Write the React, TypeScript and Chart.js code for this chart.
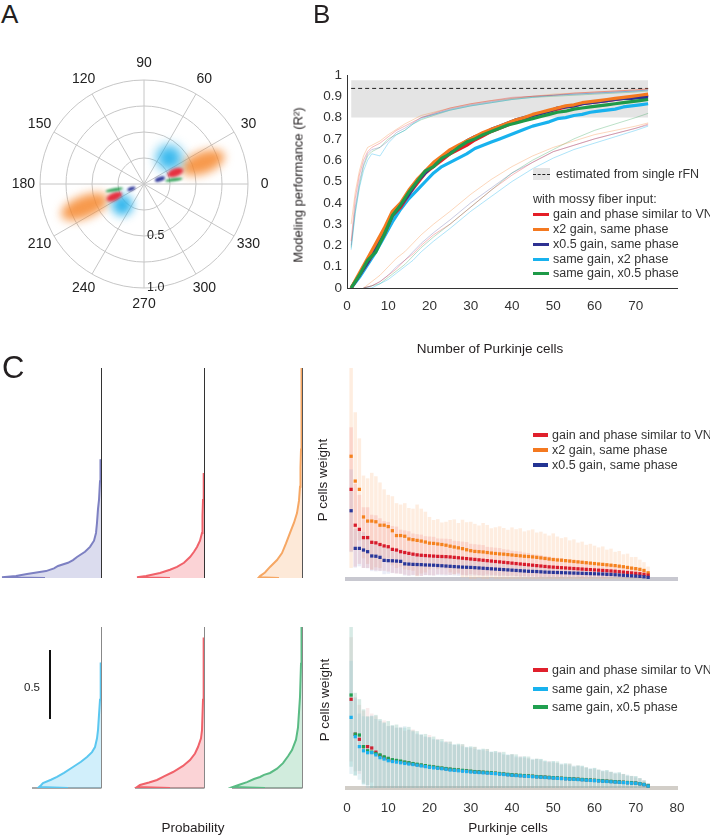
import React, { useEffect, useRef } from 'react';
import { Chart, registerables } from 'chart.js';

Chart.register(...registerables);
const FONT = '"Liberation Sans", Arial, Helvetica, sans-serif';
Chart.defaults.font.family = FONT;
Chart.defaults.color = '#222';

// ---------------- Panel A (polar) data ----------------
const polarAngles = [0, 30, 60, 90, 120, 150, 180, 210, 240, 270, 300, 330];
const polarRings = [0.25, 0.5, 0.75, 1.0];
const polarRingLabels = ['0.5', '1.0'];
const polarRingLabelValues = [0.5, 1.0];
// series order: x2 gain (orange), x2 phase (cyan), VN-like (red), x0.5 phase (green), x0.5 gain (navy)
const blobColors = ['rgba(246,135,45,0.85)', 'rgba(30,175,235,0.9)', 'rgba(232,40,55,0.95)', 'rgba(35,155,75,0.95)', 'rgba(40,50,150,0.95)'];
const blobPhase = [[20, 201], [46, 224], [20, 203], [8, 191], [17, 201]];
const blobGain = [[0.6, 0.61], [0.35, 0.29], [0.32, 0.31], [0.29, 0.29], [0.16, 0.13]];
const blobGainSpread = [[0.22, 0.24], [0.12, 0.1], [0.08, 0.08], [0.085, 0.085], [0.05, 0.04]];
const blobPhaseSpread = [[10, 10], [20, 20], [7, 7], [3, 3], [8, 8]];

// ---------------- Panel B data ----------------
const bX = [1, 3, 5, 7, 9, 11, 13, 15, 17, 19, 21, 23, 25, 27, 29, 31, 33, 35, 37, 39, 41, 43, 45, 47, 49, 51, 53, 55, 57, 59, 61, 63, 65, 67, 69, 71, 73];
const bOrange = [0, 0.07, 0.14, 0.21, 0.28, 0.36, 0.40, 0.46, 0.51, 0.55, 0.59, 0.62, 0.65, 0.67, 0.69, 0.71, 0.73, 0.745, 0.76, 0.775, 0.79, 0.80, 0.815, 0.825, 0.835, 0.845, 0.855, 0.86, 0.87, 0.875, 0.88, 0.885, 0.89, 0.895, 0.90, 0.905, 0.91];
const bRed = [0, 0.06, 0.12, 0.18, 0.25, 0.34, 0.38, 0.44, 0.49, 0.54, 0.57, 0.60, 0.63, 0.65, 0.67, 0.695, 0.715, 0.735, 0.75, 0.765, 0.785, 0.795, 0.81, 0.82, 0.83, 0.84, 0.85, 0.855, 0.865, 0.87, 0.875, 0.88, 0.885, 0.89, 0.895, 0.90, 0.905];
const bNavy = [0, 0.06, 0.12, 0.19, 0.26, 0.34, 0.39, 0.44, 0.5, 0.54, 0.58, 0.61, 0.635, 0.665, 0.69, 0.71, 0.725, 0.745, 0.76, 0.775, 0.79, 0.80, 0.81, 0.82, 0.83, 0.845, 0.85, 0.855, 0.865, 0.87, 0.875, 0.88, 0.885, 0.89, 0.89, 0.895, 0.895];
const bGreen = [0, 0.06, 0.13, 0.17, 0.25, 0.34, 0.39, 0.45, 0.50, 0.55, 0.57, 0.61, 0.63, 0.66, 0.685, 0.70, 0.72, 0.735, 0.75, 0.765, 0.775, 0.785, 0.795, 0.805, 0.815, 0.825, 0.83, 0.84, 0.845, 0.85, 0.855, 0.86, 0.865, 0.87, 0.875, 0.88, 0.885];
const bCyan = [0, 0.05, 0.11, 0.17, 0.24, 0.31, 0.37, 0.42, 0.46, 0.50, 0.54, 0.57, 0.59, 0.61, 0.63, 0.655, 0.67, 0.685, 0.70, 0.715, 0.73, 0.745, 0.76, 0.77, 0.78, 0.795, 0.80, 0.81, 0.815, 0.825, 0.83, 0.835, 0.84, 0.85, 0.855, 0.86, 0.865];
// faint upper curves
const upX = [1, 2, 3, 4, 5, 6, 8, 10, 12, 14, 16, 18, 21, 25, 30, 35, 40, 45, 50, 55, 60, 65, 70, 73];
const upRed = [0.22, 0.42, 0.53, 0.6, 0.64, 0.66, 0.68, 0.71, 0.74, 0.76, 0.78, 0.80, 0.82, 0.845, 0.865, 0.88, 0.895, 0.9, 0.905, 0.915, 0.92, 0.925, 0.93, 0.935];
const upOrange = [0.3, 0.45, 0.55, 0.62, 0.66, 0.67, 0.69, 0.72, 0.745, 0.77, 0.79, 0.81, 0.825, 0.845, 0.865, 0.88, 0.89, 0.9, 0.91, 0.915, 0.92, 0.925, 0.93, 0.935];
const upNavy = [0.2, 0.38, 0.5, 0.58, 0.63, 0.65, 0.66, 0.69, 0.73, 0.75, 0.775, 0.8, 0.815, 0.84, 0.86, 0.875, 0.89, 0.9, 0.905, 0.91, 0.915, 0.92, 0.925, 0.93];
const upCyan = [0.18, 0.35, 0.47, 0.55, 0.6, 0.63, 0.62, 0.68, 0.72, 0.74, 0.77, 0.795, 0.815, 0.835, 0.855, 0.87, 0.885, 0.895, 0.905, 0.91, 0.915, 0.92, 0.925, 0.93];
const upGreen = [0.19, 0.36, 0.48, 0.57, 0.62, 0.64, 0.66, 0.7, 0.72, 0.74, 0.77, 0.79, 0.81, 0.835, 0.855, 0.87, 0.885, 0.895, 0.9, 0.905, 0.91, 0.915, 0.92, 0.925];
// faint lower curves
const lowX = [4, 6, 8, 10, 12, 14, 16, 18, 21, 25, 30, 35, 40, 45, 50, 55, 60, 65, 70, 73];
const lowRed = [0, 0.01, 0.03, 0.06, 0.09, 0.13, 0.16, 0.2, 0.25, 0.3, 0.38, 0.46, 0.53, 0.59, 0.64, 0.67, 0.70, 0.725, 0.75, 0.77];
const lowOrange = [0, 0.03, 0.06, 0.1, 0.14, 0.17, 0.21, 0.25, 0.3, 0.36, 0.44, 0.51, 0.57, 0.62, 0.66, 0.69, 0.72, 0.74, 0.76, 0.775];
const lowNavy = [0, 0.01, 0.03, 0.06, 0.1, 0.13, 0.17, 0.21, 0.26, 0.32, 0.4, 0.47, 0.54, 0.59, 0.64, 0.67, 0.7, 0.725, 0.75, 0.765];
const lowCyan = [0, 0, 0.02, 0.04, 0.07, 0.1, 0.13, 0.17, 0.22, 0.28, 0.36, 0.43, 0.5, 0.56, 0.61, 0.65, 0.68, 0.71, 0.74, 0.76];
const lowGreen = [0, 0.01, 0.02, 0.05, 0.08, 0.11, 0.15, 0.19, 0.24, 0.3, 0.38, 0.46, 0.54, 0.6, 0.65, 0.7, 0.74, 0.77, 0.8, 0.82];
const bandX = [1, 73];
const bandLow = 0.80;
const bandHigh = 0.975;
const rfnEstimate = 0.937;
const bLegend = ['gain and phase similar to VN', 'x2 gain, same phase', 'x0.5 gain, same phase', 'same gain, x2 phase', 'same gain, x0.5 phase'];

// ---------------- Panel C data ----------------
const cells = [1, 2, 3, 4, 5, 6, 7, 8, 9, 10, 11, 12, 13, 14, 15, 16, 17, 18, 19, 20, 21, 22, 23, 24, 25, 26, 27, 28, 29, 30, 31, 32, 33, 34, 35, 36, 37, 38, 39, 40, 41, 42, 43, 44, 45, 46, 47, 48, 49, 50, 51, 52, 53, 54, 55, 56, 57, 58, 59, 60, 61, 62, 63, 64, 65, 66, 67, 68, 69, 70, 71, 72, 73];
const orangeTop = [0.89, 0.71, 0.65, 0.45, 0.42, 0.42, 0.415, 0.39, 0.39, 0.38,
  0.35, 0.315, 0.315, 0.31, 0.29, 0.285, 0.28, 0.275, 0.268, 0.26,
  0.258, 0.254, 0.25, 0.245, 0.238, 0.232, 0.226, 0.22, 0.212, 0.205,
  0.2, 0.198, 0.196, 0.192, 0.188, 0.185, 0.182, 0.18, 0.177, 0.174,
  0.171, 0.168, 0.165, 0.163, 0.16, 0.157, 0.153, 0.149, 0.145, 0.141,
  0.138, 0.136, 0.133, 0.13, 0.127, 0.124, 0.121, 0.118, 0.115, 0.112,
  0.109, 0.106, 0.103, 0.1, 0.097, 0.093, 0.089, 0.084, 0.079, 0.075,
  0.07, 0.062, 0.045];
const redTop = [0.65, 0.39, 0.36, 0.30, 0.30, 0.266, 0.262, 0.25, 0.24, 0.234,
  0.215, 0.21, 0.198, 0.192, 0.186, 0.18, 0.175, 0.172, 0.17, 0.168,
  0.166, 0.164, 0.163, 0.162, 0.16, 0.157, 0.154, 0.151, 0.148, 0.145,
  0.142, 0.139, 0.136, 0.133, 0.13, 0.127, 0.124, 0.121, 0.118, 0.115,
  0.112, 0.109, 0.106, 0.103, 0.1, 0.097, 0.094, 0.091, 0.088, 0.086,
  0.084, 0.082, 0.08, 0.078, 0.076, 0.074, 0.072, 0.07, 0.068, 0.066,
  0.064, 0.062, 0.06, 0.058, 0.056, 0.053, 0.05, 0.047, 0.044, 0.041,
  0.038, 0.034, 0.028];
const navyTop = [0.495, 0.222, 0.222, 0.21, 0.198, 0.167, 0.165, 0.157, 0.135, 0.133,
  0.132, 0.13, 0.128, 0.11, 0.108, 0.106, 0.105, 0.104, 0.102, 0.101,
  0.1, 0.098, 0.096, 0.094, 0.092, 0.09, 0.088, 0.086, 0.085, 0.084,
  0.082, 0.08, 0.078, 0.076, 0.074, 0.072, 0.07, 0.068, 0.066, 0.064,
  0.062, 0.06, 0.058, 0.056, 0.055, 0.054, 0.052, 0.05, 0.049, 0.048,
  0.047, 0.046, 0.045, 0.044, 0.043, 0.042, 0.041, 0.04, 0.039, 0.038,
  0.037, 0.036, 0.034, 0.033, 0.031, 0.029, 0.027, 0.025, 0.023, 0.021,
  0.019, 0.016, 0.012];
const orangeTopSd = [0.81, 0.5, 0.37, 0.3, 0.31, 0.35, 0.33, 0.31, 0.26, 0.23,
  0.25, 0.235, 0.225, 0.24, 0.225, 0.225, 0.26, 0.235, 0.22, 0.19,
  0.17, 0.18, 0.16, 0.17, 0.19, 0.2, 0.18, 0.21, 0.2, 0.21,
  0.2, 0.19, 0.21, 0.2, 0.18, 0.19, 0.2, 0.19, 0.18, 0.2,
  0.19, 0.2, 0.18, 0.19, 0.2, 0.18, 0.19, 0.18, 0.17, 0.19,
  0.17, 0.16, 0.17, 0.15, 0.16, 0.14, 0.15, 0.13, 0.14, 0.13,
  0.12, 0.13, 0.11, 0.12, 0.1, 0.11, 0.09, 0.1, 0.08, 0.085,
  0.07, 0.06, 0.045];
const redTopSd = [0.45, 0.3, 0.25, 0.22, 0.22, 0.2, 0.2, 0.19, 0.18, 0.18,
  0.17, 0.17, 0.16, 0.16, 0.16, 0.15, 0.15, 0.15, 0.14, 0.14,
  0.14, 0.13, 0.13, 0.13, 0.13, 0.12, 0.12, 0.12, 0.12, 0.11,
  0.11, 0.11, 0.11, 0.1, 0.1, 0.1, 0.1, 0.095, 0.095, 0.09,
  0.09, 0.09, 0.085, 0.085, 0.08, 0.08, 0.08, 0.075, 0.075, 0.07,
  0.07, 0.07, 0.065, 0.065, 0.06, 0.06, 0.06, 0.055, 0.055, 0.05,
  0.05, 0.05, 0.045, 0.045, 0.04, 0.04, 0.04, 0.035, 0.035, 0.03,
  0.03, 0.025, 0.02];
const navyTopSd = [0.3, 0.14, 0.13, 0.13, 0.12, 0.11, 0.11, 0.1, 0.1, 0.095,
  0.09, 0.09, 0.09, 0.085, 0.085, 0.08, 0.08, 0.08, 0.075, 0.075,
  0.075, 0.07, 0.07, 0.07, 0.065, 0.065, 0.065, 0.06, 0.06, 0.06,
  0.058, 0.056, 0.055, 0.054, 0.052, 0.05, 0.05, 0.048, 0.046, 0.045,
  0.044, 0.043, 0.042, 0.041, 0.04, 0.039, 0.038, 0.037, 0.036, 0.035,
  0.034, 0.033, 0.032, 0.031, 0.03, 0.03, 0.029, 0.028, 0.027, 0.026,
  0.025, 0.025, 0.024, 0.023, 0.022, 0.021, 0.02, 0.019, 0.018, 0.017,
  0.016, 0.014, 0.012];
const redBot = [0.643, 0.39, 0.353, 0.30, 0.30, 0.29, 0.26, 0.235, 0.22, 0.21,
  0.2, 0.196, 0.19, 0.185, 0.18, 0.174, 0.169, 0.164, 0.159, 0.154,
  0.15, 0.146, 0.142, 0.139, 0.135, 0.132, 0.129, 0.126, 0.123, 0.12,
  0.117, 0.115, 0.113, 0.111, 0.109, 0.106, 0.103, 0.1, 0.097, 0.094,
  0.092, 0.09, 0.088, 0.086, 0.084, 0.082, 0.08, 0.078, 0.076, 0.074,
  0.072, 0.07, 0.068, 0.066, 0.065, 0.063, 0.061, 0.059, 0.057, 0.055,
  0.053, 0.051, 0.049, 0.047, 0.045, 0.043, 0.041, 0.039, 0.037, 0.035,
  0.031, 0.025, 0.015];
const cyanBot = [0.512, 0.372, 0.30, 0.27, 0.256, 0.256, 0.24, 0.22, 0.21, 0.198,
  0.192, 0.188, 0.183, 0.178, 0.174, 0.17, 0.165, 0.16, 0.155, 0.15,
  0.146, 0.143, 0.14, 0.136, 0.13, 0.128, 0.125, 0.122, 0.119, 0.116,
  0.114, 0.112, 0.11, 0.108, 0.106, 0.104, 0.101, 0.098, 0.095, 0.092,
  0.09, 0.088, 0.086, 0.084, 0.082, 0.08, 0.078, 0.076, 0.074, 0.072,
  0.07, 0.068, 0.066, 0.064, 0.063, 0.061, 0.059, 0.057, 0.055, 0.053,
  0.051, 0.049, 0.047, 0.045, 0.043, 0.041, 0.039, 0.037, 0.035, 0.034,
  0.03, 0.024, 0.014];
const greenBot = [0.674, 0.39, 0.384, 0.30, 0.27, 0.26, 0.25, 0.24, 0.226, 0.215,
  0.205, 0.2, 0.195, 0.188, 0.183, 0.177, 0.172, 0.167, 0.162, 0.157,
  0.153, 0.149, 0.145, 0.141, 0.137, 0.134, 0.131, 0.128, 0.125, 0.122,
  0.119, 0.117, 0.115, 0.113, 0.111, 0.108, 0.105, 0.102, 0.099, 0.096,
  0.094, 0.092, 0.09, 0.088, 0.086, 0.083, 0.081, 0.079, 0.077, 0.075,
  0.073, 0.071, 0.069, 0.067, 0.066, 0.064, 0.062, 0.06, 0.058, 0.056,
  0.054, 0.052, 0.05, 0.048, 0.046, 0.044, 0.042, 0.04, 0.038, 0.036,
  0.032, 0.026, 0.016];
const redBotSd = [0.45, 0.27, 0.25, 0.26, 0.28, 0.25, 0.26, 0.25, 0.27, 0.24,
  0.25, 0.24, 0.25, 0.23, 0.24, 0.25, 0.22, 0.22, 0.21, 0.23,
  0.2, 0.21, 0.19, 0.2, 0.2, 0.18, 0.18, 0.19, 0.17, 0.17,
  0.18, 0.16, 0.16, 0.17, 0.15, 0.15, 0.16, 0.14, 0.14, 0.15,
  0.13, 0.14, 0.13, 0.13, 0.12, 0.13, 0.12, 0.11, 0.12, 0.11,
  0.11, 0.1, 0.1, 0.11, 0.09, 0.1, 0.09, 0.09, 0.08, 0.08,
  0.08, 0.07, 0.07, 0.07, 0.06, 0.06, 0.06, 0.05, 0.05, 0.04,
  0.04, 0.03, 0.02];
const cyanBotSd = [0.41, 0.28, 0.24, 0.25, 0.26, 0.27, 0.26, 0.27, 0.26, 0.25,
  0.26, 0.25, 0.26, 0.27, 0.25, 0.24, 0.23, 0.23, 0.22, 0.22,
  0.21, 0.21, 0.2, 0.2, 0.19, 0.19, 0.19, 0.18, 0.18, 0.18,
  0.17, 0.17, 0.17, 0.16, 0.16, 0.16, 0.16, 0.15, 0.15, 0.15,
  0.14, 0.14, 0.14, 0.13, 0.13, 0.13, 0.13, 0.12, 0.12, 0.12,
  0.11, 0.11, 0.11, 0.1, 0.1, 0.1, 0.1, 0.09, 0.09, 0.09,
  0.08, 0.08, 0.08, 0.07, 0.07, 0.07, 0.06, 0.06, 0.05, 0.05,
  0.04, 0.03, 0.02];
const greenBotSd = [0.52, 0.3, 0.26, 0.27, 0.25, 0.26, 0.28, 0.26, 0.25, 0.27,
  0.25, 0.26, 0.24, 0.25, 0.26, 0.24, 0.24, 0.22, 0.23, 0.21,
  0.22, 0.2, 0.21, 0.19, 0.2, 0.18, 0.19, 0.19, 0.17, 0.18,
  0.18, 0.16, 0.17, 0.17, 0.15, 0.16, 0.15, 0.16, 0.14, 0.15,
  0.15, 0.13, 0.14, 0.14, 0.12, 0.13, 0.13, 0.12, 0.11, 0.12,
  0.12, 0.1, 0.11, 0.11, 0.09, 0.1, 0.1, 0.09, 0.08, 0.09,
  0.08, 0.07, 0.08, 0.07, 0.06, 0.07, 0.06, 0.05, 0.05, 0.05,
  0.04, 0.03, 0.02];

// histograms: weight (vertical) vs probability (horizontal, leftwards)
const hBlueW = [0, 0.006, 0.015, 0.029, 0.05, 0.07, 0.087, 0.11, 0.13, 0.152, 0.19, 0.225, 0.27, 0.326, 0.4, 0.5, 0.565, 0.7, 0.86];
const hBlueP = [0.056, 0.099, 0.085, 0.074, 0.055, 0.047, 0.043, 0.033, 0.028, 0.024, 0.016, 0.011, 0.007, 0.005, 0.004, 0.003, 0.002, 0.001, 0.0005];
const hRedTopW = [0, 0.006, 0.015, 0.036, 0.06, 0.08, 0.11, 0.152, 0.19, 0.225, 0.27, 0.326, 0.45, 0.565, 0.76];
const hRedTopP = [0.034, 0.067, 0.058, 0.044, 0.034, 0.027, 0.02, 0.014, 0.01, 0.007, 0.004, 0.002, 0.0015, 0.001, 0.0003];
const hOrangeW = [0, 0.006, 0.014, 0.04, 0.08, 0.13, 0.18, 0.25, 0.326, 0.4, 0.47, 0.56, 0.66, 0.8, 0.93, 1.2, 1.52];
const hOrangeP = [0.023, 0.043, 0.042, 0.037, 0.032, 0.025, 0.02, 0.016, 0.012, 0.008, 0.005, 0.003, 0.002, 0.0015, 0.001, 0.0006, 0.0004];
const hCyanW = [0, 0.007, 0.02, 0.036, 0.06, 0.08, 0.11, 0.152, 0.19, 0.225, 0.26, 0.297, 0.36, 0.42, 0.53, 0.64, 0.91];
const hCyanP = [0.033, 0.062, 0.06, 0.058, 0.05, 0.044, 0.037, 0.028, 0.02, 0.014, 0.009, 0.006, 0.004, 0.003, 0.002, 0.001, 0.0003];
const hRedBotW = [0, 0.007, 0.022, 0.04, 0.058, 0.085, 0.116, 0.16, 0.203, 0.25, 0.297, 0.36, 0.42, 0.64, 0.85, 1.09];
const hRedBotP = [0.034, 0.067, 0.064, 0.055, 0.047, 0.04, 0.031, 0.021, 0.014, 0.009, 0.006, 0.003, 0.002, 0.001, 0.0005, 0.0002];
const hGreenW = [0, 0.007, 0.025, 0.043, 0.065, 0.08, 0.095, 0.109, 0.14, 0.18, 0.23, 0.275, 0.35, 0.44, 0.55, 0.66, 0.9, 1.17];
const hGreenP = [0.037, 0.069, 0.062, 0.055, 0.048, 0.042, 0.038, 0.032, 0.025, 0.019, 0.014, 0.01, 0.006, 0.004, 0.003, 0.002, 0.001, 0.0005];
const scaleBarFrom = 0.5;
const scaleBarTo = 1.0;
const topLegend = ['gain and phase similar to VN', 'x2 gain, same phase', 'x0.5 gain, same phase'];
const botLegend = ['gain and phase similar to VN', 'same gain, x2 phase', 'same gain, x0.5 phase'];

// ---------------- colours ----------------
const RED = '#e41e26';
const ORANGE = '#f47920';
const NAVY = '#2e3192';
const CYAN = '#18b2ee';
const GREEN = '#1e9a48';
const fade = (hex: string, a: number) => {
  const n = parseInt(hex.slice(1), 16);
  return `rgba(${(n >> 16) & 255},${(n >> 8) & 255},${n & 255},${a})`;
};

// ---------------- plugins ----------------
const PR = 144 / 104;
const polarPlugin: any = {
  id: 'polarGrid',
  beforeDatasetsDraw(chart: any) {
    const { ctx } = chart;
    const xs = chart.scales.x, ys = chart.scales.y;
    const P = (r: number, deg: number) => [xs.getPixelForValue(r * Math.cos(deg * Math.PI / 180)), ys.getPixelForValue(r * Math.sin(deg * Math.PI / 180))];
    const [cx, cy] = P(0, 0);
    const R = xs.getPixelForValue(1) - cx;
    ctx.save();
    ctx.strokeStyle = '#c6c6c6';
    ctx.lineWidth = 1;
    polarRings.forEach((r) => { ctx.beginPath(); ctx.arc(cx, cy, r * R, 0, Math.PI * 2); ctx.stroke(); });
    polarAngles.forEach((a) => { const [x, y] = P(1, a); ctx.beginPath(); ctx.moveTo(cx, cy); ctx.lineTo(x, y); ctx.stroke(); });
    blobPhase.forEach((phs, s) => {
      phs.forEach((ph, k) => {
        const g = blobGain[s][k];
        const [px, py] = P(g, ph);
        const a = blobGainSpread[s][k] * R;
        const b = g * R * blobPhaseSpread[s][k] * Math.PI / 180;
        ctx.save();
        ctx.filter = `blur(${Math.max(1.2, Math.min(a, b) * 0.45).toFixed(1)}px)`;
        ctx.fillStyle = blobColors[s];
        ctx.beginPath();
        ctx.ellipse(px, py, a, b, -ph * Math.PI / 180, 0, Math.PI * 2);
        ctx.fill();
        ctx.restore();
      });
    });
    ctx.restore();
  },
  afterDatasetsDraw(chart: any) {
    const { ctx } = chart;
    const xs = chart.scales.x, ys = chart.scales.y;
    const P = (r: number, deg: number) => [xs.getPixelForValue(r * Math.cos(deg * Math.PI / 180)), ys.getPixelForValue(r * Math.sin(deg * Math.PI / 180))];
    ctx.save();
    ctx.fillStyle = '#222';
    ctx.font = `14px ${FONT}`;
    ctx.textAlign = 'center';
    ctx.textBaseline = 'middle';
    polarAngles.forEach((a) => { const [x, y] = P(1.16, a); ctx.fillText(String(a), x, y); });
    ctx.font = `12.5px ${FONT}`;
    ctx.textAlign = 'left';
    polarRingLabelValues.forEach((v, i) => { const [x, y] = P(v, 270); ctx.fillText(polarRingLabels[i], x + 3, y); });
    ctx.restore();
  },
};

const histAxisPlugin: any = {
  id: 'histAxis',
  beforeDatasetsDraw(chart: any, _args: any, opts: any) {
    const { ctx } = chart;
    const xs = chart.scales.x, ys = chart.scales.y;
    const x0 = Math.round(xs.getPixelForValue(0)) + 0.5;
    ctx.save();
    ctx.strokeStyle = opts.axisColor;
    ctx.lineWidth = 1;
    ctx.beginPath();
    ctx.moveTo(x0, ys.getPixelForValue(0));
    ctx.lineTo(x0, ys.getPixelForValue(ys.max));
    ctx.stroke();
    if (opts.baseLen) {
      ctx.strokeStyle = '#8a8a8a';
      ctx.lineWidth = 1.5;
      ctx.beginPath();
      ctx.moveTo(x0, ys.getPixelForValue(0));
      ctx.lineTo(xs.getPixelForValue(opts.baseLen), ys.getPixelForValue(0));
      ctx.stroke();
    }
    if (opts.bar) {
      const bx = xs.getPixelForValue(opts.bar);
      ctx.strokeStyle = '#111';
      ctx.lineWidth = 2;
      ctx.beginPath();
      ctx.moveTo(bx, ys.getPixelForValue(scaleBarFrom));
      ctx.lineTo(bx, ys.getPixelForValue(scaleBarTo));
      ctx.stroke();
      ctx.fillStyle = '#222';
      ctx.font = `11.5px ${FONT}`;
      ctx.textAlign = 'center';
      ctx.textBaseline = 'middle';
      ctx.fillText(String(scaleBarTo - scaleBarFrom), xs.getPixelForValue(opts.bar + 0.018), ys.getPixelForValue((scaleBarFrom + scaleBarTo) / 2) + 3);
    }
    ctx.restore();
  },
};

const noPlugins = { legend: { display: false }, tooltip: { enabled: false } };

// ---------------- configs ----------------
const polarConfig = () => ({
  type: 'scatter',
  data: { datasets: [{ data: [], pointRadius: 0 }] },
  options: {
    responsive: false, animation: false, events: [],
    layout: { padding: 0 },
    plugins: noPlugins,
    scales: {
      x: { type: 'linear', min: -PR, max: PR, display: false },
      y: { type: 'linear', min: -PR, max: PR, display: false },
    },
  },
  plugins: [polarPlugin],
});

const ln = (xs: number[], ys: number[], color: string, width: number, extra: any = {}) => ({
  data: xs.map((x, i) => ({ x, y: ys[i] })),
  borderColor: color, backgroundColor: color, borderWidth: width, pointRadius: 0, fill: false, tension: 0,
  borderJoinStyle: 'round', ...extra,
});

const bConfig = () => ({
  type: 'line',
  data: {
    datasets: [
      ln(bX, bGreen, GREEN, 3.2),
      ln(bX, bOrange, ORANGE, 3.2),
      ln(bX, bNavy, NAVY, 3.2),
      ln(bX, bRed, RED, 3.2),
      ln(bX, bCyan, CYAN, 3.2),
      ln(upX, upRed, fade(RED, 0.3), 1),
      ln(upX, upOrange, fade(ORANGE, 0.3), 1),
      ln(upX, upNavy, fade(NAVY, 0.25), 1),
      ln(upX, upCyan, fade(CYAN, 0.35), 1),
      ln(upX, upGreen, fade(GREEN, 0.3), 1),
      ln(lowX, lowRed, fade(RED, 0.3), 1),
      ln(lowX, lowOrange, fade(ORANGE, 0.3), 1),
      ln(lowX, lowNavy, fade(NAVY, 0.25), 1),
      ln(lowX, lowCyan, fade(CYAN, 0.35), 1),
      ln(lowX, lowGreen, fade(GREEN, 0.3), 1),
      ln(bandX, [rfnEstimate, rfnEstimate], '#222', 1, { borderDash: [4, 3] }),
      ln(bandX, [bandHigh, bandHigh], 'rgba(0,0,0,0)', 0, { fill: '+1', backgroundColor: '#e4e4e4' }),
      ln(bandX, [bandLow, bandLow], 'rgba(0,0,0,0)', 0),
    ],
  },
  options: {
    responsive: false, animation: false, events: [],
    layout: { padding: { left: 0, top: 15, right: 23, bottom: 0 } },
    plugins: noPlugins,
    scales: {
      x: {
        type: 'linear', min: 0, max: 80,
        grid: { display: false, drawTicks: false },
        border: { display: true, color: '#333', width: 1 },
        ticks: { stepSize: 10, padding: 10, color: '#333', font: { size: 13.5 }, maxRotation: 0, autoSkip: false, callback: (v: any) => (v === 80 ? '' : String(v)) },
        afterFit: (s: any) => { s.height = 42; s.paddingLeft = 0; s.paddingRight = 0; },
      },
      y: {
        type: 'linear', min: 0, max: 1,
        grid: { display: false, drawTicks: false },
        border: { display: true, color: '#333', width: 1 },
        ticks: { stepSize: 0.1, padding: 5, color: '#333', font: { size: 13.5 }, autoSkip: false, callback: (v: any) => String(Math.round(v * 10) / 10) },
        afterFit: (s: any) => { s.width = 97; s.paddingTop = 0; s.paddingBottom = 0; },
      },
    },
  },
});

const histConfig = (ws: number[], ps: number[], line: string, fill: string, maxW: number, axisColor: string, baseLen: number, bar: number) => ({
  type: 'line',
  data: {
    datasets: [{
      data: ws.map((w, i) => ({ x: ps[i], y: w })),
      borderColor: line, backgroundColor: fill, fill: 'origin', borderWidth: 2, pointRadius: 0, tension: 0,
    }],
  },
  options: {
    responsive: false, animation: false, events: [],
    indexAxis: 'y',
    layout: { padding: { left: 2, right: 3, top: 6, bottom: 6 } },
    plugins: { ...noPlugins, histAxis: { axisColor, baseLen, bar } },
    scales: {
      x: { type: 'linear', reverse: true, min: 0, max: 0.1, display: false },
      y: { type: 'linear', min: 0, max: maxW, display: false },
    },
  },
  plugins: [histAxisPlugin],
});

const scatterConfig = (means: number[][], sds: number[][], ptColors: string[], barColors: string[], maxW: number, showTicks: boolean, baseColor: string, padding: any) => ({
  type: 'scatter',
  data: {
    datasets: [
      ...means.map((m, s) => ({
        type: 'scatter',
        data: m.map((v, i) => ({ x: cells[i], y: v })),
        backgroundColor: ptColors[s], borderWidth: 0, pointStyle: 'rect', pointRadius: 2.3, order: 100 - s,
      })),
      ...means.map((m, s) => ({
        type: 'bar',
        data: m.map((v, i) => ({ x: cells[i], y: [Math.max(0, v - sds[s][i]), v + sds[s][i]] })),
        backgroundColor: barColors[s], borderWidth: 0, grouped: false, barPercentage: 0.85, categoryPercentage: 1, order: 200 - s,
      })),
    ],
  },
  options: {
    responsive: false, animation: false, events: [],
    layout: { padding },
    plugins: noPlugins,
    scales: {
      x: {
        type: 'linear', min: 0, max: 80, offset: false, z: 1,
        grid: { display: false, drawTicks: false },
        border: { display: true, color: baseColor, width: 4 },
        ticks: { display: showTicks, stepSize: 10, padding: 12, color: '#333', font: { size: 13.5 }, maxRotation: 0, autoSkip: false },
        afterFit: (s: any) => { if (showTicks) s.height = 47; s.paddingLeft = 0; s.paddingRight = 0; },
      },
      y: { type: 'linear', min: 0, max: maxW, display: false },
    },
  },
});

// ---------------- components ----------------
function ChartBox({ left, top, width, height, make }: any) {
  const ref = useRef<HTMLCanvasElement | null>(null);
  useEffect(() => {
    if (!ref.current) return;
    const chart = new Chart(ref.current, make());
    return () => chart.destroy();
  }, []);
  return <canvas ref={ref} width={width} height={height} style={{ position: 'absolute', left, top, width, height }} />;
}

function Txt({ x, y, size = 13.5, align = 'center', rotate = 0, color = '#231f20', children }: any) {
  const tx = align === 'center' ? '-50%' : align === 'right' ? '-100%' : '0';
  return (
    <div style={{
      position: 'absolute', left: x, top: y, fontSize: size, lineHeight: 1, whiteSpace: 'nowrap', color, fontFamily: FONT,
      transform: `translate(${tx}, -50%)${rotate ? ` rotate(${rotate}deg)` : ''}`,
    }}>{children}</div>
  );
}

function Swatch({ x, y, w, h, color }: any) {
  return <div style={{ position: 'absolute', left: x, top: y - h / 2, width: w, height: h, background: color }} />;
}

const bLegendColors = [RED, ORANGE, NAVY, CYAN, GREEN];
const bLegendY = [214, 229, 244, 259, 273];
const topLegendColors = ['#e0202c', ORANGE, '#233493'];
const topLegendY = [435, 450, 465];
const botLegendColors = ['#e0202c', CYAN, '#20a050'];
const botLegendY = [670, 689, 707];

export default function App() {
  return (
    <div style={{ position: 'absolute', left: 0, top: 0, width: 710, height: 835, overflow: 'hidden', background: '#fff', fontFamily: FONT }}>
      {/* Panel A */}
      <ChartBox left={0} top={40} width={288} height={288} make={polarConfig} />

      {/* Panel B */}
      <ChartBox left={250} top={60} width={450} height={270} make={bConfig} />
      <Txt x={298} y={185} rotate={-90} size={13}>Modeling performance (R²)</Txt>
      <Txt x={490} y={349} size={13.5}>Number of Purkinje cells</Txt>
      <div style={{ position: 'absolute', left: 533, top: 168, width: 17, height: 12, background: '#e4e4e4' }} />
      <div style={{ position: 'absolute', left: 533, top: 174, width: 17, height: 0, borderTop: '1px dashed #222' }} />
      <Txt x={556} y={174} align="left" size={12.5} color="#333">estimated from single rFN</Txt>
      <Txt x={533} y={199} align="left" size={12.5} color="#333">with mossy fiber input:</Txt>
      {bLegend.map((t, i) => (
        <React.Fragment key={t}>
          <Swatch x={533} y={bLegendY[i]} w={16} h={3} color={bLegendColors[i]} />
          <Txt x={553} y={bLegendY[i]} align="left" size={12.5} color="#333">{t}</Txt>
        </React.Fragment>
      ))}

      {/* Panel C histograms */}
      <ChartBox left={-1} top={362} width={105} height={222} make={() => histConfig(hBlueW, hBlueP, '#7d80c2', 'rgba(125,128,194,0.28)', 1.52, '#333', 0, 0)} />
      <ChartBox left={102} top={362} width={105} height={222} make={() => histConfig(hRedTopW, hRedTopP, '#f0626a', 'rgba(240,98,106,0.28)', 1.52, '#333', 0, 0)} />
      <ChartBox left={200} top={362} width={105} height={222} make={() => histConfig(hOrangeW, hOrangeP, '#f6a764', 'rgba(246,167,100,0.25)', 1.52, '#555', 0, 0)} />
      <ChartBox left={-1} top={621} width={105} height={173} make={() => histConfig(hCyanW, hCyanP, '#5bc7f0', 'rgba(91,199,240,0.28)', 1.167, '#888', 0.069, 0.051)} />
      <ChartBox left={102} top={621} width={105} height={173} make={() => histConfig(hRedBotW, hRedBotP, '#f0626a', 'rgba(240,98,106,0.28)', 1.167, '#888', 0.069, 0)} />
      <ChartBox left={200} top={621} width={105} height={173} make={() => histConfig(hGreenW, hGreenP, '#5abb84', 'rgba(90,187,132,0.28)', 1.167, '#888', 0.07, 0)} />

      {/* Panel C scatter plots */}
      <ChartBox left={300} top={360} width={390} height={225} make={() => scatterConfig(
        [orangeTop, redTop, navyTop], [orangeTopSd, redTopSd, navyTopSd],
        ['#f5821f', '#d81b2b', '#29379a'],
        ['rgba(253,185,135,0.26)', 'rgba(236,110,110,0.2)', 'rgba(140,150,210,0.18)'],
        1.53, false, '#c8c8d0', { left: 47, right: 13, top: 8, bottom: 6 })} />
      <ChartBox left={300} top={612} width={390} height={223} make={() => scatterConfig(
        [redBot, greenBot, cyanBot], [redBotSd, greenBotSd, cyanBotSd],
        ['#cc2233', '#22a052', '#1cb1ee'],
        ['rgba(225,160,160,0.2)', 'rgba(110,180,160,0.28)', 'rgba(120,190,210,0.2)'],
        1.167, true, '#d2cec8', { left: 47, right: 13, top: 15, bottom: 0 })} />

      <Txt x={323} y={480} rotate={-90} size={13.5}>P cells weight</Txt>
      <Txt x={325} y={700} rotate={-90} size={13.5}>P cells weight</Txt>
      {topLegend.map((t, i) => (
        <React.Fragment key={t}>
          <Swatch x={533} y={topLegendY[i]} w={15} h={4} color={topLegendColors[i]} />
          <Txt x={552} y={topLegendY[i]} align="left" size={12.5} color="#333">{t}</Txt>
        </React.Fragment>
      ))}
      {botLegend.map((t, i) => (
        <React.Fragment key={t}>
          <Swatch x={533} y={botLegendY[i]} w={15} h={4} color={botLegendColors[i]} />
          <Txt x={552} y={botLegendY[i]} align="left" size={12.5} color="#333">{t}</Txt>
        </React.Fragment>
      ))}
      <Txt x={193} y={828} size={13.5}>Probability</Txt>
      <Txt x={508} y={828} size={13.5}>Purkinje cells</Txt>

      {/* Panel letters */}
      <Txt x={1} y={14} align="left" size={26}>A</Txt>
      <Txt x={313} y={14} align="left" size={26}>B</Txt>
      <Txt x={2} y={367} align="left" size={31}>C</Txt>
    </div>
  );
}
